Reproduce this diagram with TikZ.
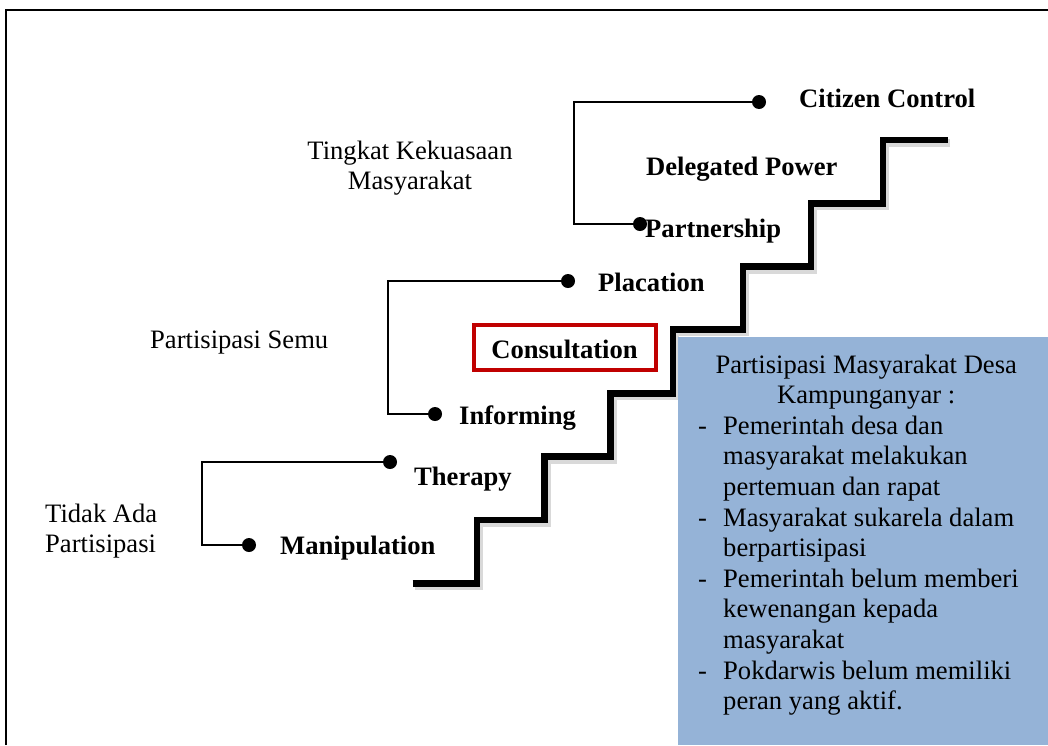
\documentclass[tikz,border=0pt]{standalone}
\usepackage{fontspec}
\setmainfont{Liberation Serif}
\definecolor{boxblue}{RGB}{149,179,215}
\definecolor{conred}{RGB}{192,0,0}
\begin{document}
\begin{tikzpicture}[x=1pt,y=-1pt,
  lbl/.style={font=\fontsize{26.6}{30.6}\selectfont\bfseries, anchor=base west, inner sep=0pt},
  grp/.style={font=\fontsize{26.6}{30.6}\selectfont, inner sep=0pt},
  dot/.style={circle, fill=black, inner sep=0pt, minimum size=14pt},
  bracket/.style={line width=1.6pt},
  stair/.style={line width=6.5pt, line join=miter},
  stairshadow/.style={line width=8pt, line join=miter, black, opacity=0.15},
  consult/.style={draw=conred, line width=4pt, minimum width=182pt, minimum height=45pt, inner sep=0pt, text height=22pt, text depth=0pt, font=\fontsize{26.6}{30.6}\selectfont\bfseries},
  bluebox/.style={fill=boxblue, inner sep=0pt, minimum width=370pt, minimum height=408pt, anchor=north west}
]
\useasboundingbox (0,0) rectangle (1048,745);
% frame
\draw[line width=2pt] (6,745) -- (6,9.5) -- (1048,9.5);

% staircase
\draw[stairshadow] (414.5,586.3) -| (478.8,523) -| (546.6,459.7) -| (612.7,396.3) -| (675,332.3) -| (744.9,269.7) -| (813,206.3) -| (884.9,143) -- (950,143);
\draw[stair] (412.5,583.3) -| (476.8,520) -| (544.6,456.7) -| (610.7,393.3) -| (673,329.3) -| (742.9,266.7) -| (811,203.3) -| (882.9,140) -- (948,140);

% blue box
\node[bluebox] (box) at (678,337) {};
\node[anchor=base west, inner sep=0pt, font=\fontsize{26.6}{30.6}\selectfont] (boxtext) at (698,373) {%
\begin{minipage}[t]{336pt}\centering
Partisipasi Masyarakat Desa\\
Kampunganyar :\par
\raggedright
\hangindent=25pt\hangafter=1\noindent\makebox[25pt][l]{-}Pemerintah desa dan\newline masyarakat melakukan\newline pertemuan dan rapat\par
\hangindent=25pt\hangafter=1\noindent\makebox[25pt][l]{-}Masyarakat sukarela dalam\newline berpartisipasi\par
\hangindent=25pt\hangafter=1\noindent\makebox[25pt][l]{-}Pemerintah belum memberi\newline kewenangan kepada\newline masyarakat\par
\hangindent=25pt\hangafter=1\noindent\makebox[25pt][l]{-}Pokdarwis belum memiliki\newline peran yang aktif.\par
\end{minipage}};

% dots
\node[dot] (dcc) at (759,102) {};
\node[dot] (dpa) at (640,224) {};
\node[dot] (dpl) at (568,281) {};
\node[dot] (din) at (435,414) {};
\node[dot] (dth) at (390,462) {};
\node[dot] (dma) at (249,545) {};

% bracket corners
\coordinate (k1) at (574,0);
\coordinate (k2) at (388,0);
\coordinate (k3) at (202,0);
\draw[bracket] (dcc) -- (dcc.center -| k1) -- (dpa.center -| k1) -- (dpa);
\draw[bracket] (dpl) -- (dpl.center -| k2) -- (din.center -| k2) -- (din);
\draw[bracket] (dth) -- (dth.center -| k3) -- (dma.center -| k3) -- (dma);

% rung labels
\node[lbl] (cc) at (799,107) {Citizen Control};
\node[lbl] (dp) at (646,175) {Delegated Power};
\node[lbl] (pa) at (645,237) {Partnership};
\node[lbl] (pl) at (598,291) {Placation};
\node[consult] (con) at (564.5,347.5) {Consultation};
\node[lbl] (in) at (459,424) {Informing};
\node[lbl] (th) at (414,485) {Therapy};
\node[lbl] (ma) at (280,554) {Manipulation};

% group labels
\node[grp, align=center] (g1) at (410,168) {Tingkat Kekuasaan\\Masyarakat};
\node[grp, anchor=base west] (g2) at (150,348) {Partisipasi Semu};
\node[grp, align=left, anchor=west] (g3) at (45,531) {Tidak Ada\\Partisipasi};
\end{tikzpicture}
\end{document}
